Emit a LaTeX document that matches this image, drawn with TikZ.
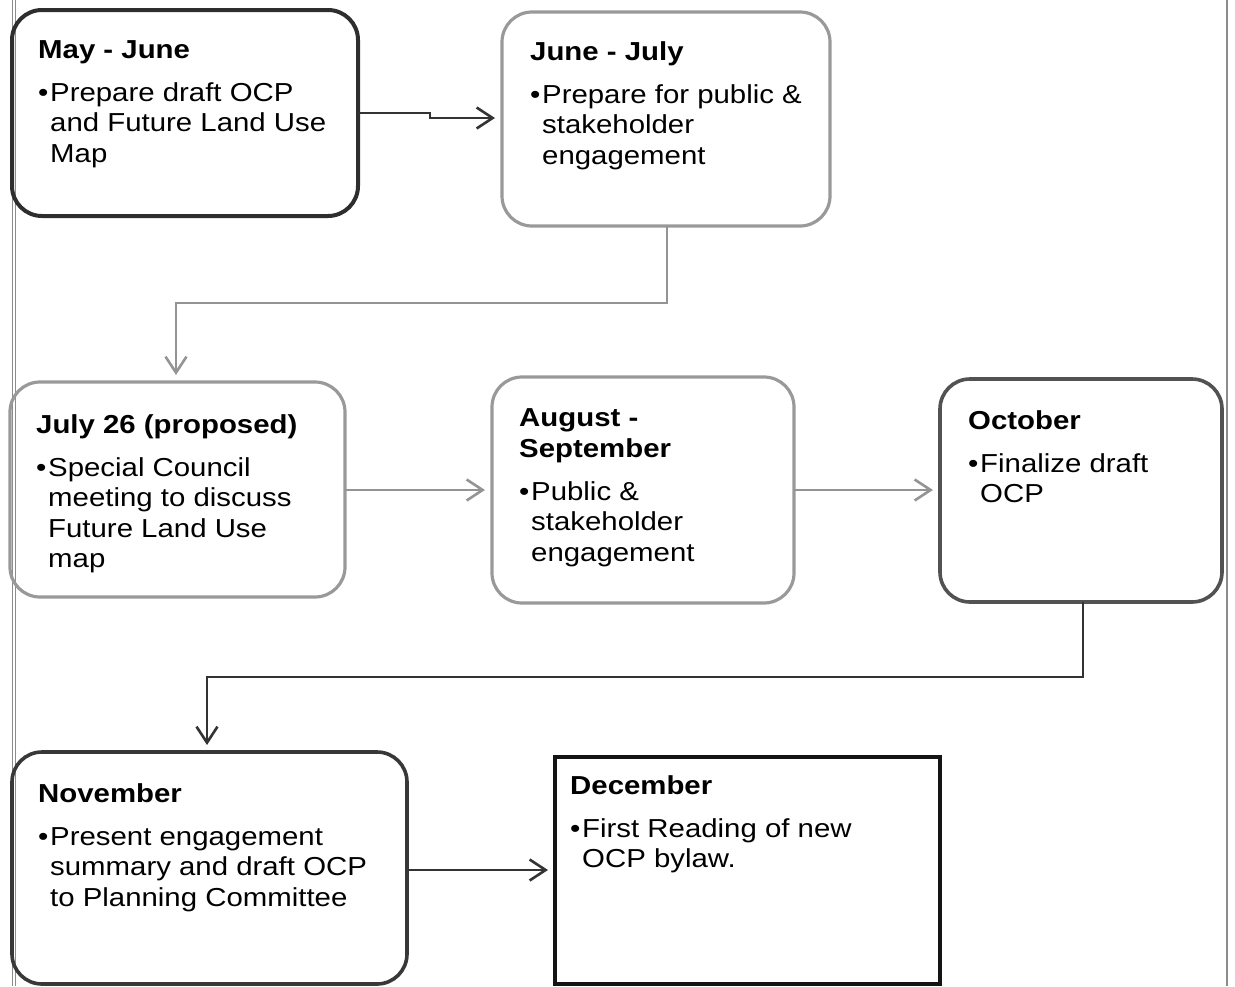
\documentclass[tikz,border=0pt]{standalone}
\usepackage{fontspec}
\setmainfont{Liberation Sans}[FakeStretch=1.13]
\usetikzlibrary{arrows.meta}
\newcommand\bodylines[1]{\begin{tabular}[t]{@{}l@{}l@{}}#1\end{tabular}}
\newcommand\bul{\makebox[12pt][l]{\textbullet}}
\begin{document}
\begin{tikzpicture}[x=1pt,y=-1pt,
  txt/.style={anchor=base west,inner sep=0pt,font=\fontsize{26}{30.5}\selectfont},
  ttl/.style={txt,font=\fontsize{26}{30.5}\selectfont\bfseries},
  box/.style={outer sep=0pt,anchor=north west,rounded corners=30pt},
  darkbox/.style={box,draw=black!82,line width=4pt},
  greybox/.style={box,draw=black!40,line width=3.2pt},
  midbox/.style={box,draw=black!68,line width=3.6pt},
  sqbox/.style={box,sharp corners,draw=black!92,line width=4.5pt},
  arr/.style={line width=2.6pt,shorten >=7pt,-{Straight Barb[length=16pt,width=21pt,line width=2.6pt]}},
  darkarr/.style={arr,draw=black!80},
  greyarr/.style={arr,draw=black!42},
  pageline/.style={draw=black!45,line width=1pt}]
\useasboundingbox (0,0) rectangle (1235,986);
% page edges
\draw[pageline] (12,0) -- (12,986);
\draw[pageline] (15.5,0) -- (15.5,986);
\draw[pageline,line width=1.6pt] (1227,0) -- (1227,986);
% boxes
\node[darkbox,minimum width=346pt,minimum height=206pt] (b1) at (12,10) {};
\node[greybox,minimum width=328pt,minimum height=214pt] (b2) at (502,12) {};
\node[greybox,minimum width=335pt,minimum height=215pt] (b3) at (10,382) {};
\node[greybox,minimum width=302pt,minimum height=226pt] (b4) at (492,377) {};
\node[midbox,minimum width=282pt,minimum height=223pt] (b5) at (940,379) {};
\node[midbox,draw=black!78,minimum width=395pt,minimum height=232pt] (b6) at (12,752) {};
\node[sqbox,minimum width=385pt,minimum height=227pt] (b7) at (555,757) {};
% texts
\node[ttl] (t1) at (38,58) {May - June};
\node[txt] (x1) at (38,101) {\bodylines{\bul&Prepare draft OCP\\&and Future Land Use\\&Map}};
\node[ttl] (t2) at (530,60) {June - July};
\node[txt] (x2) at (530,103) {\bodylines{\bul&Prepare for public \&\\&stakeholder\\&engagement}};
\node[ttl] (t3) at (36,433) {July 26 (proposed)};
\node[txt] (x3) at (36,476) {\bodylines{\bul&Special Council\\&meeting to discuss\\&Future Land Use\\&map}};
\node[ttl] (t4) at (519,426) {August -};
\node[ttl] (t4b) at (519,457) {September};
\node[txt] (x4) at (519,500) {\bodylines{\bul&Public \&\\&stakeholder\\&engagement}};
\node[ttl] (t5) at (968,429) {October};
\node[txt] (x5) at (968,472) {\bodylines{\bul&Finalize draft\\&OCP}};
\node[ttl] (t6) at (38,802) {November};
\node[txt] (x6) at (38,845) {\bodylines{\bul&Present engagement\\&summary and draft OCP\\&to Planning Committee}};
\node[ttl] (t7) at (570,794) {December};
\node[txt] (x7) at (570,837) {\bodylines{\bul&First Reading of new\\&OCP bylaw.}};
% connectors
\coordinate (j1) at (430,113);
\draw[darkarr] (b1.east |- j1) -- (j1) -- (430,118) -- (b2.west |- 0,118);
\draw[greyarr] (b2.south -| 667,0) -- (667,303) -- (176,303) -- (b3.north -| 176,0);
\draw[greyarr] (b3.east |- 0,490) -- (b4.west |- 0,490);
\draw[greyarr] (b4.east |- 0,490) -- (b5.west |- 0,490);
\draw[darkarr] (b5.south -| 1083,0) -- (1083,677) -- (207,677) -- (b6.north -| 207,0);
\draw[darkarr] (b6.east |- 0,870) -- (b7.west |- 0,870);
\end{tikzpicture}
\end{document}
